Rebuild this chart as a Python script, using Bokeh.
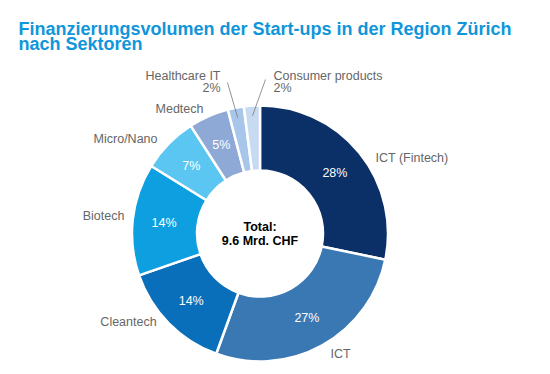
import math
from bokeh.plotting import figure
from bokeh.models import ColumnDataSource, Range1d
from bokeh.core.properties import value
from bokeh.embed import file_html
from bokeh.resources import INLINE

# ---- data ----
sectors = ["ICT (Fintech)", "ICT", "Cleantech", "Biotech", "Micro/Nano",
           "Medtech", "Healthcare IT", "Consumer products"]
shares = [28, 27, 14, 14, 7, 5, 2, 2]
pct_labels = ["28%", "27%", "14%", "14%", "7%", "5%", "2%", "2%"]
colors = ["#0b3068", "#3a78b4", "#0a6fba", "#0e9fe0", "#5cc6f2",
          "#8ea9d6", "#a8c6ea", "#c6daf2"]
title_lines = ["Finanzierungsvolumen der Start-ups in der Region Zürich", "nach Sektoren"]
center_lines = ["Total:", "9.6 Mrd. CHF"]

W, H = 534, 366
def fx(X): return X
def fy(Y): return H - Y

CX, CY = fx(259.5), fy(233)
R_IN, R_OUT = 63, 128

total = sum(shares)
starts, ends, mids = [], [], []
cum = 0
for s in shares:
    a0 = math.pi / 2 - 2 * math.pi * cum / total
    cum += s
    a1 = math.pi / 2 - 2 * math.pi * cum / total
    starts.append(a0); ends.append(a1); mids.append((a0 + a1) / 2)

p = figure(width=W, height=H, x_range=Range1d(0, W), y_range=Range1d(0, H),
           output_backend="svg", toolbar_location=None, min_border=0)
p.axis.visible = False
p.grid.visible = False
p.outline_line_color = None
p.background_fill_color = "white"

src = ColumnDataSource(dict(x=[CX] * len(shares), y=[CY] * len(shares),
                            start=starts, end=ends, color=colors))
p.annular_wedge(x="x", y="y", inner_radius=R_IN, outer_radius=R_OUT,
                start_angle="start", end_angle="end", direction="clock",
                fill_color="color", line_color="white", line_width=2.5, source=src)

# percentage labels inside (first six slices)
r_mid = (R_IN + R_OUT) / 2 + 1
px, py, pt = [], [], []
for i in range(6):
    px.append(CX + r_mid * math.cos(mids[i]))
    py.append(CY + r_mid * math.sin(mids[i]))
    pt.append(pct_labels[i])
p.text(x=px, y=py, text=pt, text_color="white", text_font=value("Liberation Sans"),
       text_font_size="12.5px", text_align="center", text_baseline="middle")

# outer labels (layout)
lab_font = value("Liberation Sans")
grey = "#666666"
outer = [  # (index, X, Y, align)
    (0, 375, 157, "left"),
    (1, 340, 353, "center"),
    (2, 128, 321, "center"),
    (3, 103, 215, "center"),
    (4, 157, 138, "right"),
    (5, 203, 108, "right"),
]
for i, X, Y, al in outer:
    p.text(x=[fx(X)], y=[fy(Y)], text=[sectors[i]], text_color=grey, text_font=lab_font,
           text_font_size="12.5px", text_align=al, text_baseline="middle")

# small slices with leader lines
small = [(6, 220, "right", 227, 82), (7, 273, "left", 265, 79)]
for i, X, al, lx, ly in small:
    p.text(x=[fx(X)], y=[fy(75)], text=[sectors[i]], text_color=grey, text_font=lab_font,
           text_font_size="12.5px", text_align=al, text_baseline="middle")
    p.text(x=[fx(X)], y=[fy(87)], text=[pct_labels[i]], text_color=grey, text_font=lab_font,
           text_font_size="12.5px", text_align=al, text_baseline="middle")
    ex = CX + 118 * math.cos(mids[i])
    ey = CY + 118 * math.sin(mids[i])
    p.line(x=[fx(lx), ex], y=[fy(ly), ey], line_color="#777777", line_width=0.8)

# center text
p.text(x=[CX, CX], y=[fy(226), fy(240)], text=center_lines, text_color="black",
       text_font=lab_font, text_font_style="bold", text_font_size="12.5px",
       text_align="center", text_baseline="middle")

# title
p.text(x=[fx(18), fx(18)], y=[fy(28), fy(43)], text=title_lines, text_color="#0f96da",
       text_font=value("Liberation Sans"), text_font_style="bold", text_font_size="18px",
       text_align="left", text_baseline="alphabetic")

open("out.html", "w").write(file_html(p, INLINE))
